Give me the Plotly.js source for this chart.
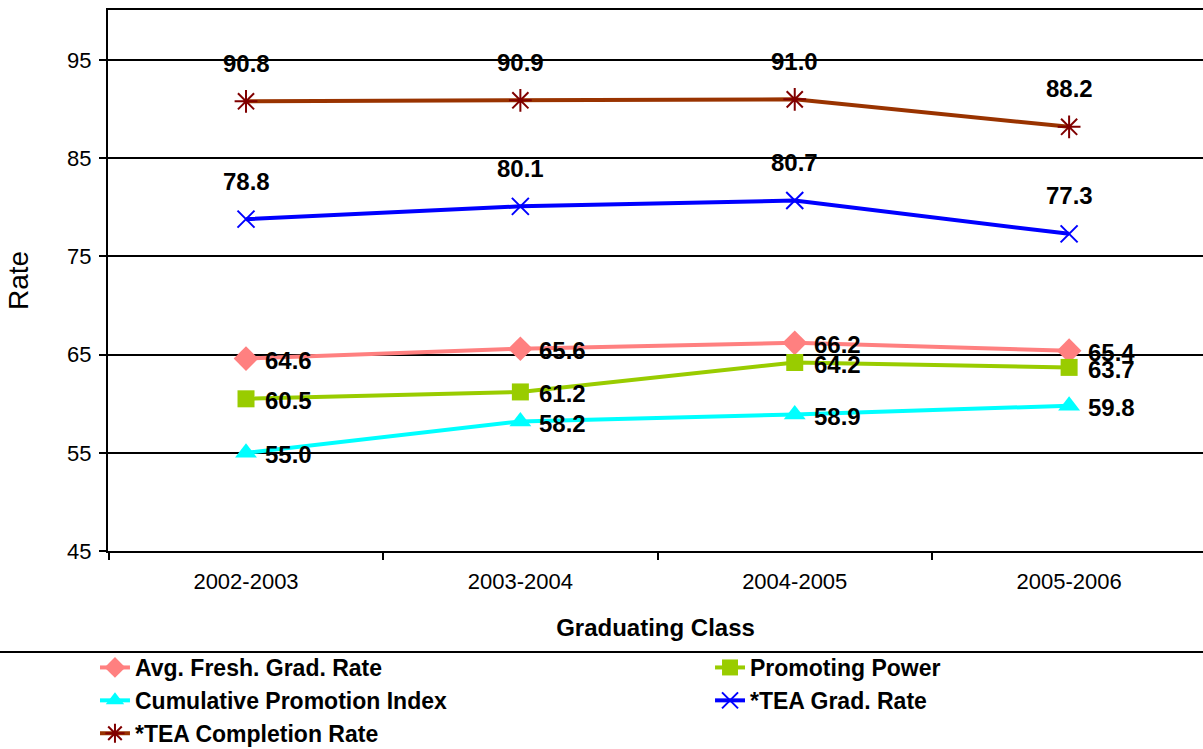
<!DOCTYPE html>
<html>
<head>
<meta charset="utf-8">
<script src="https://cdn.plot.ly/plotly-3.0.1.min.js"></script>
<style>html,body{margin:0;padding:0;background:#fff;}#chart{width:1203px;height:749px;}</style>
</head>
<body>
<div id="chart"></div>
<script>
var categories = ["2002-2003", "2003-2004", "2004-2005", "2005-2006"];
var avgFreshGrad = [64.6, 65.6, 66.2, 65.4];
var promotingPower = [60.5, 61.2, 64.2, 63.7];
var cumulativePromotion = [55.0, 58.2, 58.9, 59.8];
var teaGradRate = [78.8, 80.1, 80.7, 77.3];
var teaCompletion = [90.8, 90.9, 91.0, 88.2];
var seriesNames = ["Avg. Fresh. Grad. Rate", "Promoting Power", "Cumulative Promotion Index", "*TEA Grad. Rate", "*TEA Completion Rate"];
var yTicks = [45, 55, 65, 75, 85, 95];

var FONT = "Liberation Sans, Arial, sans-serif";

var series = [
  {name: seriesNames[0], y: avgFreshGrad, line: "#FF8080", marker: {symbol: "diamond", size: 19, color: "#FF8080"}, label: "right", legend: "legend"},
  {name: seriesNames[1], y: promotingPower, line: "#99CC00", marker: {symbol: "square", size: 17, color: "#99CC00"}, label: "right", legend: "legend2"},
  {name: seriesNames[2], y: cumulativePromotion, line: "#00FFFF", marker: {symbol: "triangle-up", size: 19, color: "#00FFFF"}, label: "right", legend: "legend"},
  {name: seriesNames[3], y: teaGradRate, line: "#0000FF", marker: {symbol: "x-thin", size: 17, color: "#0000FF", line: {color: "#0000FF", width: 2}}, label: "top", legend: "legend2"},
  {name: seriesNames[4], y: teaCompletion, line: "#993300", marker: {symbol: "asterisk", size: 19, color: "#800000", line: {color: "#800000", width: 2}}, label: "top", legend: "legend"}
];

var traces = series.map(function (s) {
  return {
    type: "scatter", mode: "lines+markers", name: s.name,
    x: categories, y: s.y,
    line: {color: s.line, width: 4},
    marker: s.marker,
    legend: s.legend,
    cliponaxis: false
  };
});

var annotations = [];
series.forEach(function (s) {
  s.y.forEach(function (v, i) {
    var a = {
      x: categories[i], y: v, xref: "x", yref: "y",
      text: "<b>" + v.toFixed(1) + "</b>", showarrow: false,
      font: {family: FONT, size: 24, color: "#000"}
    };
    if (s.label === "top") {
      a.xanchor = "center"; a.yanchor = "middle"; a.yshift = 38;
    } else {
      a.xanchor = "left"; a.yanchor = "middle"; a.xshift = 17; a.yshift = -2;
    }
    annotations.push(a);
  });
});

var legendStyle = function (x) {
  return {
    orientation: "v",
    xref: "paper", yref: "paper",
    x: x, y: -0.1756, xanchor: "left", yanchor: "top",
    font: {family: FONT, size: 23, color: "#000", weight: "bold"},
    bgcolor: "rgba(0,0,0,0)", tracegroupgap: 0, itemwidth: 30
  };
};

var layout = {
  width: 1203, height: 749,
  margin: {l: 108, r: 0, t: 10, b: 198, autoexpand: false},
  paper_bgcolor: "#fff", plot_bgcolor: "#fff",
  font: {family: FONT, color: "#000"},
  showlegend: true,
  xaxis: {
    type: "category",
    range: [-0.503, 3.488],
    automargin: false, tickangle: 0,
    showline: true, linecolor: "#000", linewidth: 2, mirror: true,
    ticks: "outside", tickson: "boundaries", ticklen: 7, tickwidth: 2, tickcolor: "#000",
    ticklabelstandoff: 10,
    tickfont: {family: FONT, size: 22, color: "#000"},
    showgrid: false, zeroline: false,
    title: {text: "<b>Graduating Class</b>", font: {family: FONT, size: 24, color: "#000"}, standoff: 26}
  },
  yaxis: {
    range: [45, 100.1],
    automargin: false,
    tickvals: yTicks, ticktext: yTicks.map(String),
    showline: true, linecolor: "#000", linewidth: 2, mirror: false,
    ticks: "outside", ticklen: 7, tickwidth: 2, tickcolor: "#000",
    ticklabelstandoff: 3,
    tickfont: {family: FONT, size: 22, color: "#000"},
    showgrid: true, gridcolor: "#000", gridwidth: 2, zeroline: false,
    title: {text: "Rate", font: {family: FONT, size: 28, color: "#000"}, standoff: 30}
  },
  legend: legendStyle(-0.0119),
  legend2: legendStyle(0.5498),
  shapes: [{
    type: "line", xref: "paper", yref: "paper",
    x0: -0.1, x1: 1.0, y0: -0.1867, y1: -0.1867,
    line: {color: "#000", width: 2}
  }],
  annotations: annotations
};

Plotly.newPlot("chart", traces, layout, {displayModeBar: false, staticPlot: true});
</script>
</body>
</html>
